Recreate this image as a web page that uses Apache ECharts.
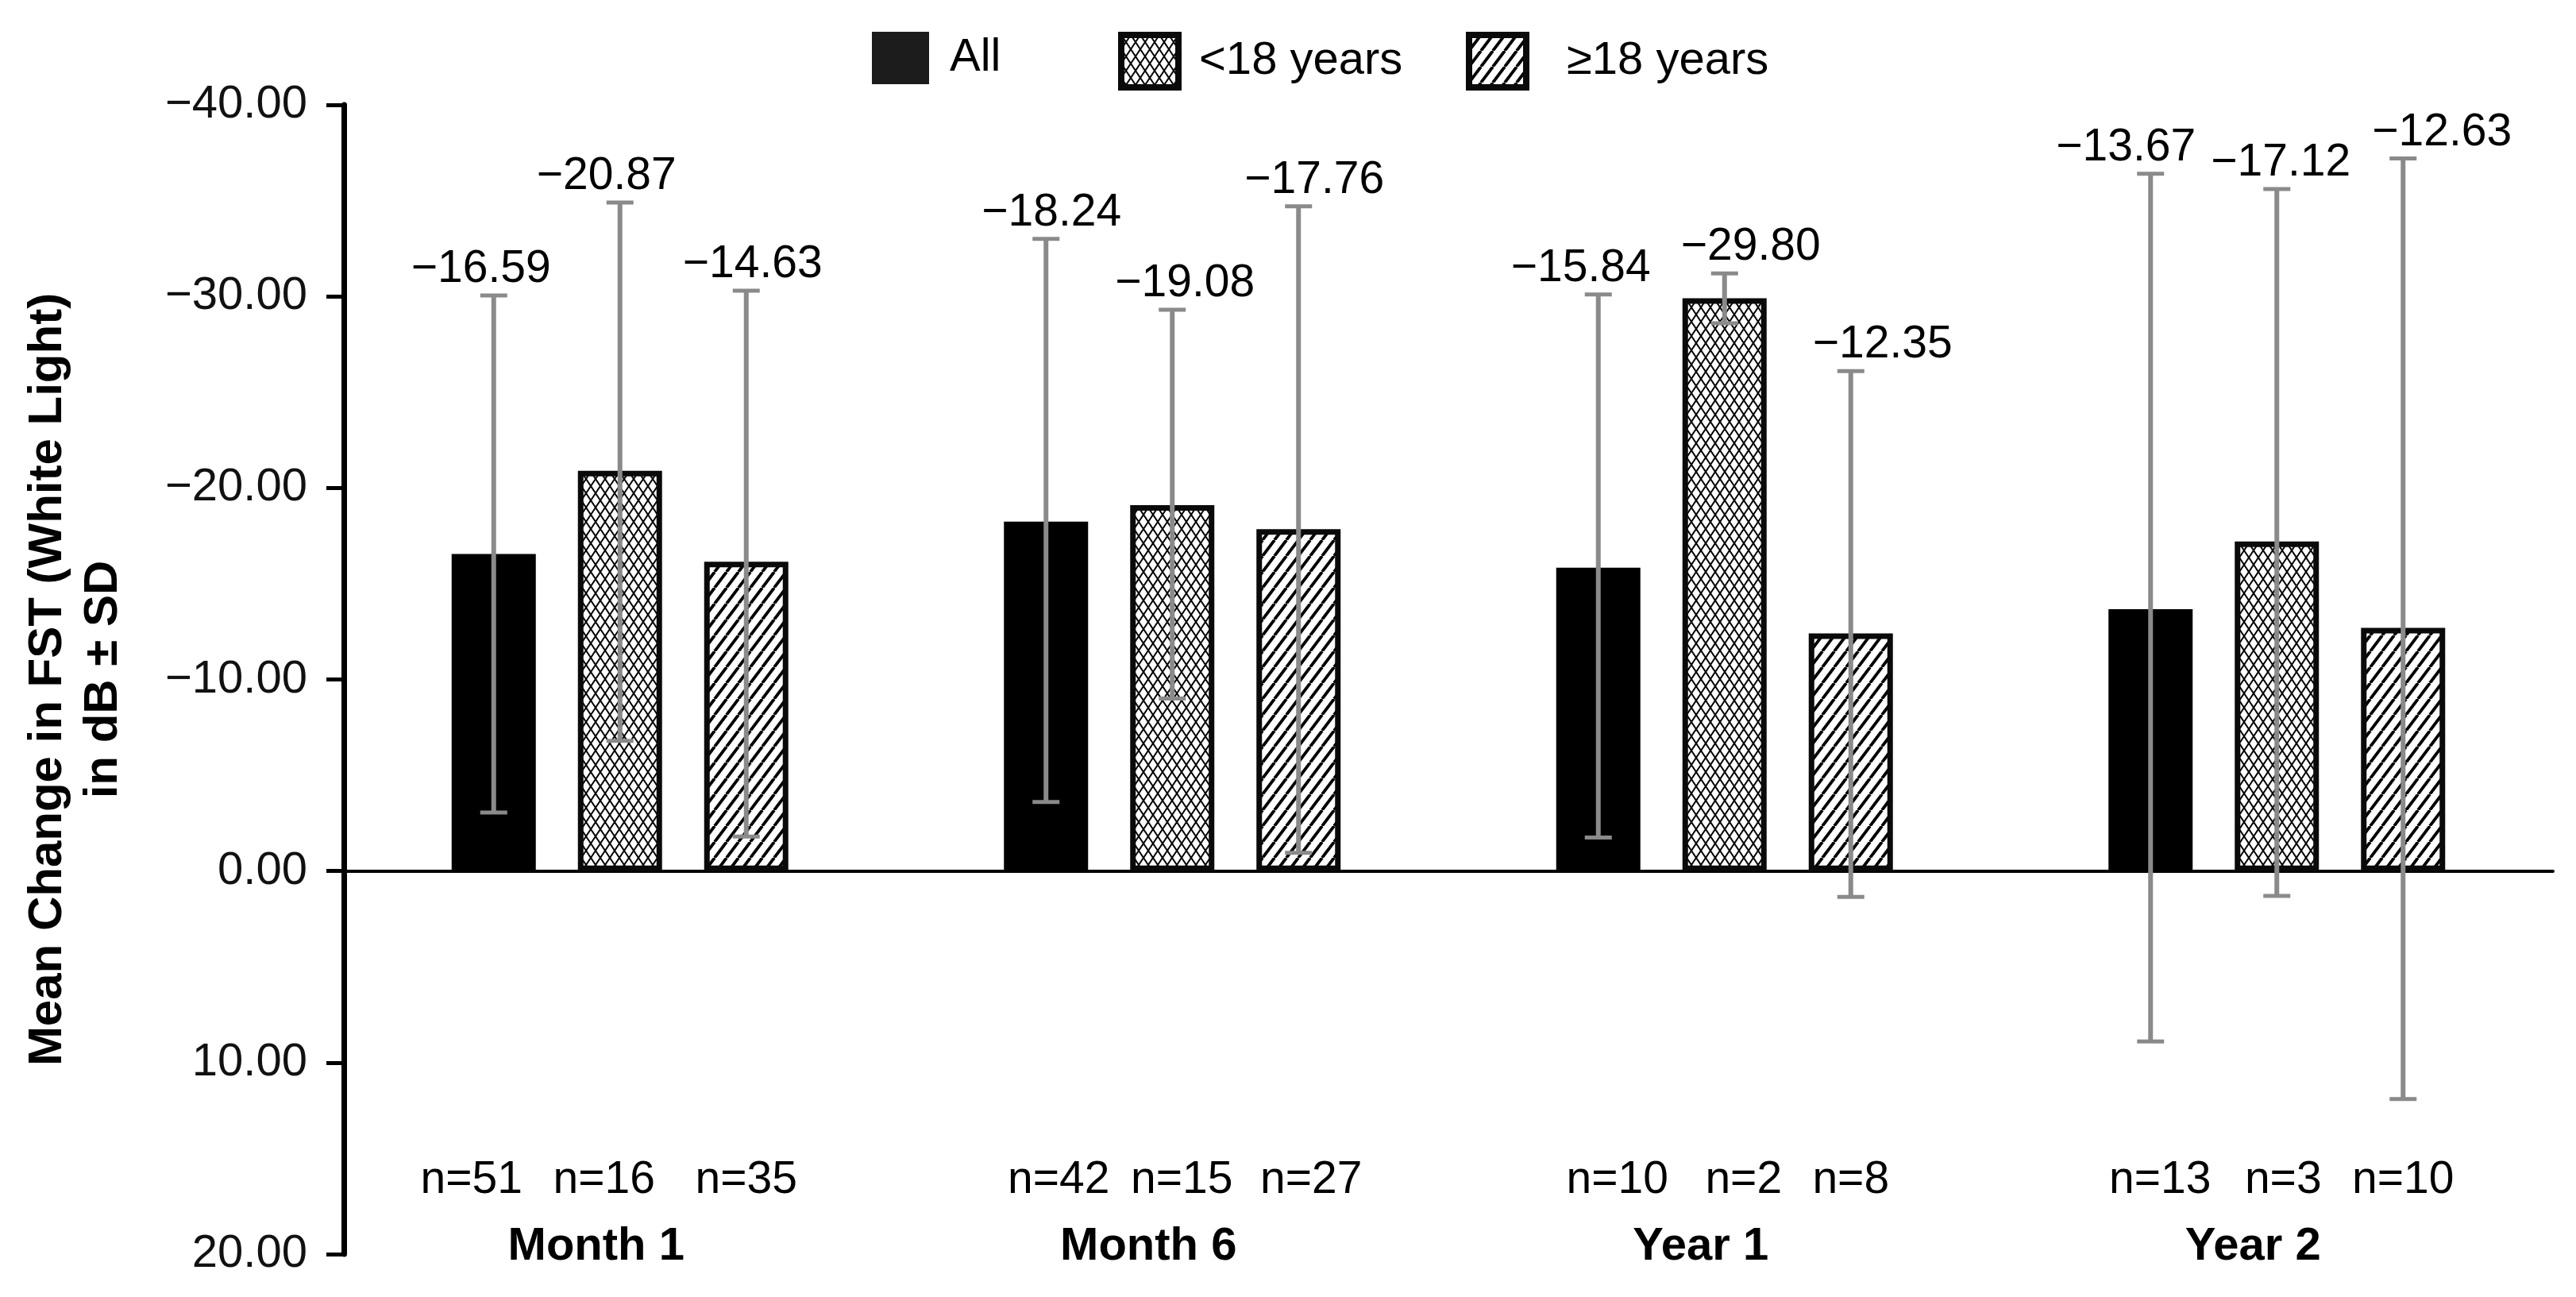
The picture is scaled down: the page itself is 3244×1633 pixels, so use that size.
<!DOCTYPE html>
<html>
<head>
<meta charset="utf-8">
<script src="https://cdn.jsdelivr.net/npm/echarts@6/dist/echarts.min.js"></script>
<style>
html,body{margin:0;padding:0;background:#fff;}
#chart{width:3244px;height:1633px;}
</style>
</head>
<body>
<div id="chart"></div>
<script>
// ---------- data ----------
const categories = ['Month 1', 'Month 6', 'Year 1', 'Year 2'];
const seriesNames = ['All', '<18 years', '\u226518 years'];

const allMean     = [-16.55, -18.24, -15.84, -13.67];
const under18Mean = [-20.90, -19.10, -29.90, -17.20];
const over18Mean  = [-16.15, -17.85, -12.40, -12.70];

// error bar ends (upper = more negative, drawn above; lower = toward/below zero)
const allErrUpper     = [-30.05, -33.00, -30.10, -36.40];
const allErrLower     = [-3.05, -3.60, -1.75, 8.90];
const under18ErrUpper = [-34.90, -29.30, -31.20, -35.60];
const under18ErrLower = [-6.80, -9.00, -28.60, 1.30];
const over18ErrUpper  = [-30.30, -34.70, -26.10, -37.20];
const over18ErrLower  = [-1.80, -0.95, 1.35, 11.90];

const allLabels     = ['\u221216.59', '\u221218.24', '\u221215.84', '\u221213.67'];
const under18Labels = ['\u221220.87', '\u221219.08', '\u221229.80', '\u221217.12'];
const over18Labels  = ['\u221214.63', '\u221217.76', '\u221212.35', '\u221212.63'];

const allN     = ['n=51', 'n=42', 'n=10', 'n=13'];
const under18N = ['n=16', 'n=15', 'n=2', 'n=3'];
const over18N  = ['n=35', 'n=27', 'n=8', 'n=10'];

const yTicks = { min: -40, max: 20, interval: 10 };

// ---------- styles ----------
const FONT = "'Liberation Sans', Arial, Helvetica, sans-serif";
const BAR_W = 106;
const BAR_GAP = 0.5;
const ERR_COLOR = '#8a8a8a';
// horizontal nudges (px) of the value labels and n labels, per series x category
const LABEL_NUDGE = [[-16, 7, -22, -31], [-17, 16, 33, 5], [8, 20, 40, 49]];
const N_NUDGE = [[-28, 16, 24, 12], [-20, 12, 24, 8], [0, 16, 0, 0]];

function crossPattern() {
  const w = 12, h = 18;
  const c = document.createElement('canvas');
  c.width = w; c.height = h;
  const g = c.getContext('2d');
  g.fillStyle = '#fff'; g.fillRect(0, 0, w, h);
  g.strokeStyle = '#000'; g.lineWidth = 2;
  g.beginPath();
  g.moveTo(0, 0); g.lineTo(w, h);
  g.moveTo(w, 0); g.lineTo(0, h);
  g.stroke();
  return c;
}
function diagPattern() {
  const w = 15, h = 20;
  const c = document.createElement('canvas');
  c.width = w; c.height = h;
  const g = c.getContext('2d');
  g.fillStyle = '#fff'; g.fillRect(0, 0, w, h);
  g.strokeStyle = '#000'; g.lineWidth = 3.8;
  g.beginPath();
  for (const dx of [-w, 0, w]) {
    g.moveTo(dx, h); g.lineTo(dx + w, 0);
  }
  g.stroke();
  return c;
}

const means = [allMean, under18Mean, over18Mean];
const uppers = [allErrUpper, under18ErrUpper, over18ErrUpper];
const lowers = [allErrLower, under18ErrLower, over18ErrLower];
const labels = [allLabels, under18Labels, over18Labels];
const ns = [allN, under18N, over18N];

const barStyles = [
  { color: '#000', borderWidth: 0 },
  { color: { image: crossPattern(), repeat: 'repeat' }, borderColor: '#0a0a0a', borderWidth: 7 },
  { color: { image: diagPattern(), repeat: 'repeat' }, borderColor: '#0a0a0a', borderWidth: 7 }
];

const errData = [];
for (let s = 0; s < 3; s++) {
  for (let i = 0; i < categories.length; i++) {
    errData.push([i, s, lowers[s][i], uppers[s][i]]);
  }
}

const chart = echarts.init(document.getElementById('chart'), null, { renderer: 'canvas' });

function fmtY(v) {
  if (v < 0) return '\u2212' + (-v).toFixed(2);
  return v.toFixed(2);
}

const legendLefts = [1093, 1403, 1841];
const legendTextPad = [21, 21, 46];

const option = {
  backgroundColor: '#fff',
  animation: false,
  textStyle: { fontFamily: FONT },
  legend: seriesNames.map((nm, k) => ({
    data: [nm],
    left: legendLefts[k],
    top: 35,
    itemWidth: 72,
    itemHeight: 66,
    icon: 'rect',
    selectedMode: false,
    itemStyle: k === 0 ? { color: '#1c1c1c' } : { borderWidth: 8 },
    textStyle: { fontSize: 58, color: '#000', fontFamily: FONT, padding: [0, 0, 0, legendTextPad[k]] }
  })),
  grid: { left: 433, right: 29, top: 132, bottom: 54, containLabel: false },
  xAxis: [
    {
      type: 'category',
      data: categories,
      axisLine: { show: true, onZero: true, lineStyle: { color: '#000', width: 4 } },
      axisTick: { show: false },
      axisLabel: { show: false },
      splitLine: { show: false }
    },
    {
      type: 'category',
      data: categories,
      position: 'bottom',
      axisLine: { show: false, onZero: false },
      axisTick: { show: false },
      axisLabel: {
        show: true, margin: -38, fontSize: 58, fontWeight: 'bold', color: '#000',
        fontFamily: FONT, padding: [0, 60, 0, 0]
      },
      splitLine: { show: false }
    }
  ],
  yAxis: {
    type: 'value',
    inverse: true,
    min: yTicks.min,
    max: yTicks.max,
    interval: yTicks.interval,
    name: 'Mean Change in FST (White Light)\nin dB \u00b1 SD',
    nameLocation: 'middle',
    nameGap: 268,
    nameRotate: 90,
    nameTextStyle: { fontSize: 60, fontWeight: 'bold', color: '#000', lineHeight: 70, fontFamily: FONT },
    axisLine: { show: true, onZero: false, lineStyle: { color: '#000', width: 7 } },
    axisTick: { show: true, inside: false, length: 22, lineStyle: { color: '#000', width: 5 } },
    axisLabel: { formatter: fmtY, fontSize: 58, color: '#111', margin: 46, fontFamily: FONT },
    splitLine: { show: false }
  },
  series: [
    ...seriesNames.map((nm, s) => ({
      name: nm,
      type: 'bar',
      xAxisIndex: 0,
      data: means[s],
      barWidth: BAR_W,
      barGap: (BAR_GAP * 100) + '%',
      itemStyle: barStyles[s],
      emphasis: { disabled: true }
    })),
    {
      type: 'custom',
      name: 'err',
      xAxisIndex: 0,
      data: errData,
      z: 5,
      silent: true,
      renderItem: function (params, api) {
        const cat = api.value(0), s = api.value(1), lo = api.value(2), hi = api.value(3);
        const c = api.coord([cat, 0]);
        const step = BAR_W * (1 + BAR_GAP);
        const x = c[0] + (s - 1) * step;
        const yLo = api.coord([cat, lo])[1];
        const yHi = api.coord([cat, hi])[1];
        const cs = params.coordSys;
        const capW = 17;
        const st = { stroke: ERR_COLOR, lineWidth: 6 };
        const capSt = { stroke: ERR_COLOR, lineWidth: 5 };
        return {
          type: 'group',
          children: [
            { type: 'line', shape: { x1: x, y1: yLo, x2: x, y2: yHi }, style: st },
            { type: 'line', shape: { x1: x - capW, y1: yLo, x2: x + capW, y2: yLo }, style: capSt },
            { type: 'line', shape: { x1: x - capW, y1: yHi, x2: x + capW, y2: yHi }, style: capSt },
            { type: 'text', style: { text: labels[s][cat], x: x + LABEL_NUDGE[s][cat], y: yHi - 4, align: 'center', verticalAlign: 'bottom', fontSize: 57, fill: '#000', fontFamily: FONT } },
            { type: 'text', style: { text: ns[s][cat], x: x + N_NUDGE[s][cat], y: cs.y + cs.height - 93, align: 'center', verticalAlign: 'middle', fontSize: 57, fill: '#000', fontFamily: FONT } }
          ]
        };
      }
    }
  ]
};
chart.setOption(option);
</script>
</body>
</html>
